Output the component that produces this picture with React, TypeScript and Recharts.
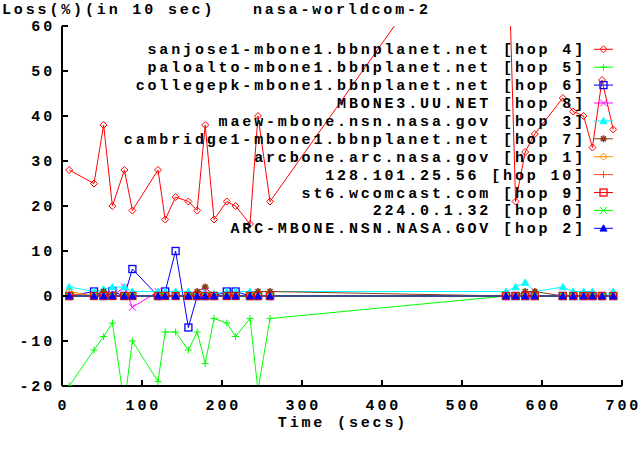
import { LineChart, Line, XAxis, YAxis } from 'recharts'

// sample times (secs)
const times = [9, 40, 52, 63, 78, 88, 120, 129, 142, 158, 169, 179, 190, 206, 217, 235, 245, 260,
  555, 567, 579, 591, 626, 639, 652, 663, 675, 689]

// loss % per hop
const hop4 = [28, 25, 38, 20, 28, 19, 28, 17, 22, 21, 19, 38, 17, 21, 20, 16, 40, 21, 95, 21, 32, 36, 44, 41, 40, 33, 48, 37]
const hop5 = [-20, -12, -9, -6, -24, -10, -19, -8, -8, -12, -8, -15, -5, -6, -9, -5, -21, -5, 0, 0, 0, 0, 0, 0, 0, 0, 0, 0]
const hop6 = [0, 1, 0, 1, 0, 6, 0, 1, 10, -7, 0, 0, 0, 1, 1, 0, 0, 0, 0, 0, 0, 0, 0, 0, 0, 0, 0, 0]
const hop8 = [0, 0, 0, 0, 2, -2.5, 1, 0, 0, 0, 0, 1, 0, 0, 0, 0, 0, 0, 0, 0, 0, 0, 0, 0, 0, 0, 0, 0]
const hop3 = [2, 1, 1.5, 2, 2, 1, 1, 1, 1, 1, 0.5, 0.5, 0.5, 1, 1, 1, 1, 1, 1, 2, 3, 1, 2, 1, 1, 1, 0, 1]
const hop7 = [0, 0, 1, 0, 0, 0, 0, 0, 0, 0, 1, 2, 0, 0, 0, 0, 1, 1, 0, 0, 1, 1, 0, 0, 0, 0, 0, 0]
const hop1 = [1, 0, 0, 0, 0, 0, 0, 0, 0, 0, 0, 0, 0, 0, 0, 0, 0, 0, 0, 0, 0, 0, 0, 0, 0, 0, 0, 0]
const hop10 = [0.5, 0, 0, 0, 0, 0, 0, 0, 0, 0, 0, 0, 0, 0, 0, 0, 0, 0, 0, 0, 0, 0, 0, 0, 0, 0, 0, 0]
const hop9 = [0, 0, 0, 0, 0, 0, 0, 0, 0, 0, 0, 0, 0, 0, 0, 0, 0, 0, 0, 0, 0, 0, 0, 0, 0, 0, 0, 0]
const hop0 = [0, 0, 0, 0, 0, 0, 0, 0, 0, 0, 0, 0, 0, 0, 0, 0, 0, 0, 0, 0, 0, 0, 0, 0, 0, 0, 0, 0]
const hop2 = [0, 0, 0, 0, 0, 0, 0, 0, 0, 0, 0, 0, 0, 0, 0, 0, 0, 0, 0, 0, 0, 0, 0, 0, 0, 0, 0, 0]

const xTicks = [0, 100, 200, 300, 400, 500, 600, 700]
const yTicks = [-20, -10, 0, 10, 20, 30, 40, 50, 60]

const SERIES = [
  { key: 'h4', name: 'sanjose1-mbone1.bbnplanet.net [hop 4]', color: '#ff0000', shape: 'diamond', values: hop4 },
  { key: 'h5', name: 'paloalto-mbone1.bbnplanet.net [hop 5]', color: '#00ff00', shape: 'plus', values: hop5 },
  { key: 'h6', name: 'collegepk-mbone1.bbnplanet.net [hop 6]', color: '#0000ff', shape: 'square', values: hop6 },
  { key: 'h8', name: 'MBONE3.UU.NET [hop 8]', color: '#ff00ff', shape: 'cross', values: hop8 },
  { key: 'h3', name: 'maew-mbone.nsn.nasa.gov [hop 3]', color: '#00ffff', shape: 'triangle', values: hop3 },
  { key: 'h7', name: 'cambridge1-mbone1.bbnplanet.net [hop 7]', color: '#8b3a1a', shape: 'star', values: hop7 },
  { key: 'h1', name: 'arcbone.arc.nasa.gov [hop 1]', color: '#ff8c00', shape: 'diamond', values: hop1 },
  { key: 'h10', name: '128.101.25.56 [hop 10]', color: '#ff5020', shape: 'plus', values: hop10 },
  { key: 'h9', name: 'st6.wcomcast.com [hop 9]', color: '#ff0000', shape: 'square', values: hop9 },
  { key: 'h0', name: '224.0.1.32 [hop 0]', color: '#00ff00', shape: 'cross', values: hop0 },
  { key: 'h2', name: 'ARC-MBONE.NSN.NASA.GOV [hop 2]', color: '#0000ff', shape: 'triangle', values: hop2 },
]

const data = times.map((t, i) => {
  const row: Record<string, number> = { t }
  SERIES.forEach(s => { row[s.key] = s.values[i] })
  return row
})

const FONT = '"Liberation Mono", "DejaVu Sans Mono", monospace'
const txt = { fontFamily: FONT, fontWeight: 700, fontSize: 15, letterSpacing: 2.85, fill: '#000' }

function Marker({ shape, cx, cy, color }: { shape: string; cx: number; cy: number; color: string }) {
  const s = 3.5
  switch (shape) {
    case 'diamond':
      return <path d={`M${cx},${cy - s}L${cx + s},${cy}L${cx},${cy + s}L${cx - s},${cy}Z`} fill="none" stroke={color} />
    case 'plus':
      return <path d={`M${cx - s},${cy}H${cx + s}M${cx},${cy - s}V${cy + s}`} stroke={color} />
    case 'square':
      return <rect x={cx - s} y={cy - s} width={2 * s} height={2 * s} fill="none" stroke={color} strokeWidth={1.3} />
    case 'cross':
      return <path d={`M${cx - s},${cy - s}L${cx + s},${cy + s}M${cx + s},${cy - s}L${cx - s},${cy + s}`} stroke={color} />
    case 'triangle':
      return <path d={`M${cx},${cy - s}L${cx + s},${cy + s * 0.8}L${cx - s},${cy + s * 0.8}Z`} fill={color} stroke={color} />
    case 'star':
      return (
        <g stroke={color} strokeWidth={1.5}>
          <path d={`M${cx - s},${cy}H${cx + s}M${cx},${cy - s}V${cy + s}M${cx - s + 1},${cy - s + 1}L${cx + s - 1},${cy + s - 1}M${cx + s - 1},${cy - s + 1}L${cx - s + 1},${cy + s - 1}`} />
        </g>
      )
    default:
      return null
  }
}

const BottomTick = (p: any) => (
  <g>
    <line x1={p.x} x2={p.x} y1={p.y} y2={p.y - 6} stroke="#000" strokeWidth={2} />
    <text x={p.x + 1.4} y={p.y + 24} textAnchor="middle" style={txt}>{p.payload.value}</text>
  </g>
)
const TopTick = (p: any) => <line x1={p.x} x2={p.x} y1={p.y} y2={p.y + 6} stroke="#000" strokeWidth={2} />
const LeftTick = (p: any) => (
  <g>
    <line x1={p.x} x2={p.x + 6} y1={p.y} y2={p.y} stroke="#000" strokeWidth={2} />
    <text x={p.x - 7} y={p.y + 5} textAnchor="end" style={txt}>{p.payload.value}</text>
  </g>
)
const RightTick = (p: any) => <line x1={p.x} x2={p.x - 6} y1={p.y} y2={p.y} stroke="#000" strokeWidth={2} />

export default function App() {
  return (
    <div style={{ position: 'absolute', left: 0, top: 0, width: 640, height: 450, background: '#fff' }}>
      <LineChart width={640} height={450} data={data} margin={{ top: 26, right: 18, bottom: 0, left: 0 }}>
        <XAxis dataKey="t" type="number" domain={[0, 700]} ticks={xTicks} interval={0} height={64}
          axisLine={{ stroke: '#000', strokeWidth: 2 }} tickLine={false} tickSize={0} tickMargin={0} tick={BottomTick} />
        <XAxis xAxisId="top" orientation="top" dataKey="t" type="number" domain={[0, 700]} ticks={xTicks} interval={0} height={0}
          axisLine={{ stroke: '#000', strokeWidth: 2 }} tickLine={false} tickSize={0} tickMargin={0} tick={TopTick} />
        <YAxis type="number" domain={[-20, 60]} ticks={yTicks} interval={0} width={62} allowDataOverflow
          axisLine={{ stroke: '#000', strokeWidth: 2 }} tickLine={false} tickSize={0} tickMargin={0} tick={LeftTick} />
        <YAxis yAxisId="right" orientation="right" type="number" domain={[-20, 60]} ticks={yTicks} interval={0} width={0}
          axisLine={{ stroke: '#000', strokeWidth: 2 }} tickLine={false} tickSize={0} tickMargin={0} tick={RightTick} />
        {SERIES.map(s => (
          <Line key={s.key} dataKey={s.key} stroke={s.color} strokeWidth={1} type="linear" isAnimationActive={false}
            dot={(p: any) => <Marker key={`${s.key}-${p.index}`} shape={s.shape} cx={p.cx} cy={p.cy} color={s.color} />} />
        ))}
      </LineChart>
      <svg width={640} height={450} style={{ position: 'absolute', left: 0, top: 0, pointerEvents: 'none' }}>
        <text x={2} y={14} style={txt}>Loss(%)(in 10 sec)</text>
        <text x={253} y={14} style={txt}>nasa-worldcom-2</text>
        <text x={343} y={427} textAnchor="middle" style={txt}>Time (secs)</text>
        {SERIES.map((s, i) => {
          const y = 49.3 + i * 17.9
          return (
            <g key={s.key}>
              <text x={586} y={y + 5} textAnchor="end" style={txt}>{s.name}</text>
              <line x1={594} x2={613} y1={y} y2={y} stroke={s.color} />
              <Marker shape={s.shape} cx={603.5} cy={y} color={s.color} />
            </g>
          )
        })}
      </svg>
    </div>
  )
}
